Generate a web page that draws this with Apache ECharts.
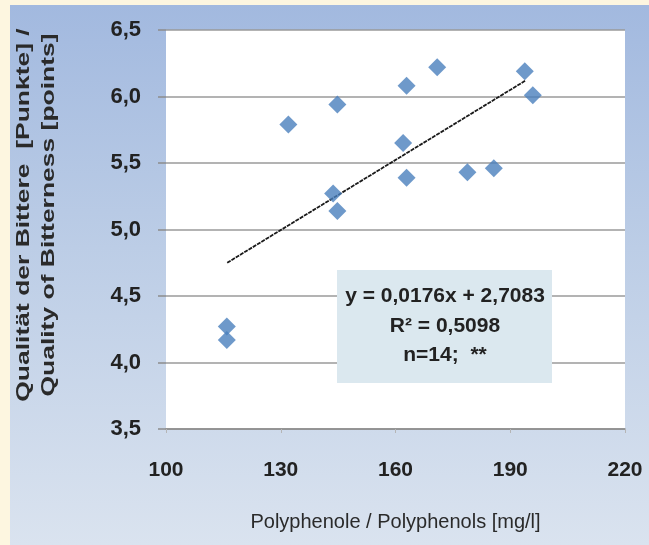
<!DOCTYPE html>
<html><head><meta charset="utf-8">
<script src="https://cdn.jsdelivr.net/npm/echarts@6/dist/echarts.min.js"></script>
<style>
html,body{margin:0;padding:0;}
#chart{width:649px;height:545px;background:linear-gradient(to bottom,#a2b9df 0%,#bccde6 45%,#dae3ef 100%) no-repeat 10px 5px/639px 540px,#fdf6e0;}
</style></head>
<body><div id="chart"></div>
<script>
// Data
const polyphenols = [115.9, 115.9, 132.0, 143.7, 144.8, 144.8, 162.0, 162.9, 162.9, 170.9, 178.8, 185.7, 193.8, 195.9];
const bitterness  = [4.27, 4.17, 5.79, 5.27, 5.14, 5.94, 5.65, 5.39, 6.08, 6.22, 5.43, 5.46, 6.19, 6.01];
const trendX = [116, 194];
const trendY = [4.75, 6.12];
const xTicks = [100, 130, 160, 190, 220];
const yTicks = [3.5, 4.0, 4.5, 5.0, 5.5, 6.0, 6.5];
const yTitleLines = ['Qualität der Bittere  [Punkte] /', 'Quality of Bitterness [points]'];
const xTitle = 'Polyphenole / Polyphenols [mg/l]';
const annotationLines = ['y = 0,0176x + 2,7083', 'R² = 0,5098', 'n=14;  **'];

const font = '"Liberation Sans",Arial,sans-serif';
const chart = echarts.init(document.getElementById('chart'), null, {renderer:'canvas'});
const points = polyphenols.map((x,i)=>[x, bitterness[i]]);
const trend = trendX.map((x,i)=>[x, trendY[i]]);

chart.setOption({
  backgroundColor:'transparent',
  animation:false,
  grid:{left:166,right:24,top:30,bottom:116,show:true,backgroundColor:'#ffffff',borderWidth:0},
  xAxis:{
    type:'value',min:xTicks[0],max:xTicks[xTicks.length-1],interval:30,
    name:xTitle,nameLocation:'middle',nameGap:83,
    nameTextStyle:{fontFamily:font,fontSize:20,color:'#2a2a2a'},
    axisLine:{show:true,lineStyle:{color:'#8c8c8c',width:1.5}},
    axisTick:{show:true,length:4,lineStyle:{color:'#b5b5b5'}},
    splitLine:{show:false},
    axisLabel:{margin:31,fontFamily:font,fontWeight:'bold',fontSize:21,color:'#222',
      formatter:v=>String(v)}
  },
  yAxis:{
    type:'value',min:yTicks[0],max:yTicks[yTicks.length-1],interval:0.5,
    axisLine:{show:false},
    axisTick:{show:true,length:8,lineStyle:{color:'#8c8c8c',width:1.5}},
    splitLine:{show:true,lineStyle:{color:'#9a9a9a',width:1.5}},
    axisLabel:{margin:25,fontFamily:font,fontWeight:'bold',fontSize:22,color:'#222',
      formatter:v=>v.toFixed(1).replace('.',',')}
  },
  series:[
    {type:'line',data:trend,showSymbol:false,symbol:'none',z:3,
      lineStyle:{color:'#1a1a1a',width:1.8,type:[4,1]}},
    {type:'scatter',data:points,symbol:'diamond',symbolSize:[18,18],z:4,
      itemStyle:{color:'#4a7fbd'}}
  ],
  graphic:[
    {type:'group',x:37,y:215,rotation:Math.PI/2,scaleX:1.47,children:[
      {type:'text',x:0,y:-12.5,style:{text:yTitleLines[0],fill:'#2a2a2a',font:'bold 18px '+font,align:'center',verticalAlign:'middle'}},
      {type:'text',x:0,y:12.5,style:{text:yTitleLines[1],fill:'#2a2a2a',font:'bold 18px '+font,align:'center',verticalAlign:'middle'}}
    ]},
    {type:'rect',shape:{x:337,y:270,width:215,height:113},style:{fill:'#dbe8ef'},z:2},
    {type:'text',x:445,y:296,style:{text:annotationLines[0],fill:'#222',font:'bold 21px '+font,align:'center',verticalAlign:'middle'},z:5},
    {type:'text',x:445,y:326,style:{text:annotationLines[1],fill:'#222',font:'bold 21px '+font,align:'center',verticalAlign:'middle'},z:5},
    {type:'text',x:445,y:355,style:{text:annotationLines[2],fill:'#222',font:'bold 21px '+font,align:'center',verticalAlign:'middle'},z:5}
  ]
});
</script></body></html>
